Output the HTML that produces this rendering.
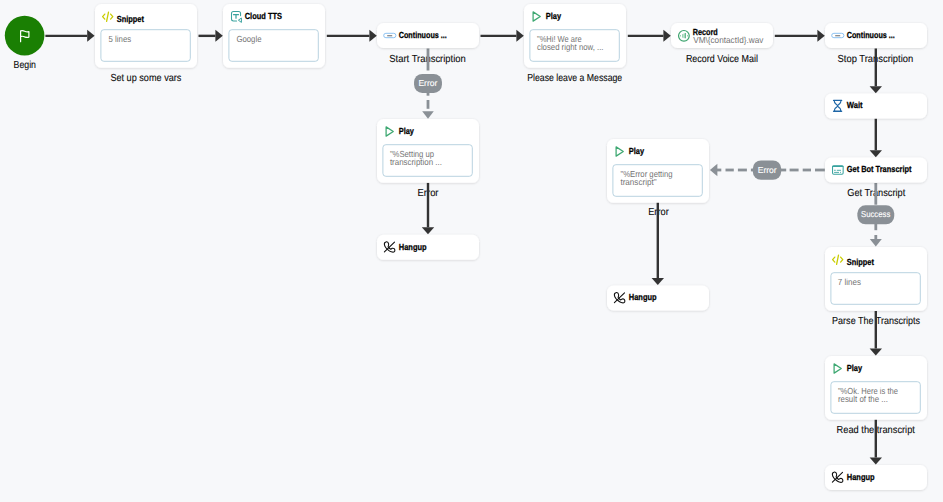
<!DOCTYPE html><html><head><meta charset="utf-8"><style>html,body{margin:0;padding:0;background:#f7f8fa;overflow:hidden}svg{display:block}text{font-family:"Liberation Sans",sans-serif;text-rendering:geometricPrecision}</style></head><body>
<svg width="943" height="502" viewBox="0 0 943 502">
<defs><filter id="sh" x="-10%" y="-20%" width="120%" height="140%"><feDropShadow dx="0" dy="0.6" stdDeviation="1.3" flood-color="#000" flood-opacity="0.15"/></filter></defs>
<rect width="943" height="502" fill="#f7f8fa"/>
<text x="13.6" y="68.1" font-size="10.2" fill="#0a0a0a" font-weight="normal" textLength="22.4" lengthAdjust="spacingAndGlyphs" stroke="#0a0a0a" stroke-width="0.1">Begin</text>
<text x="110.4" y="81" font-size="10.2" fill="#0a0a0a" font-weight="normal" textLength="71" lengthAdjust="spacingAndGlyphs" stroke="#0a0a0a" stroke-width="0.1">Set up some vars</text>
<text x="389.3" y="62" font-size="10.2" fill="#0a0a0a" font-weight="normal" textLength="76.5" lengthAdjust="spacingAndGlyphs" stroke="#0a0a0a" stroke-width="0.1">Start Transcription</text>
<text x="527.2" y="81" font-size="10.2" fill="#0a0a0a" font-weight="normal" textLength="95" lengthAdjust="spacingAndGlyphs" stroke="#0a0a0a" stroke-width="0.1">Please leave a Message</text>
<text x="685.9" y="62" font-size="10.2" fill="#0a0a0a" font-weight="normal" textLength="72" lengthAdjust="spacingAndGlyphs" stroke="#0a0a0a" stroke-width="0.1">Record Voice Mail</text>
<text x="837.6" y="62" font-size="10.2" fill="#0a0a0a" font-weight="normal" textLength="75.6" lengthAdjust="spacingAndGlyphs" stroke="#0a0a0a" stroke-width="0.1">Stop Transcription</text>
<text x="417.6" y="196" font-size="10.2" fill="#0a0a0a" font-weight="normal" textLength="20.9" lengthAdjust="spacingAndGlyphs" stroke="#0a0a0a" stroke-width="0.1">Error</text>
<text x="648.2" y="215" font-size="10.2" fill="#0a0a0a" font-weight="normal" textLength="20.6" lengthAdjust="spacingAndGlyphs" stroke="#0a0a0a" stroke-width="0.1">Error</text>
<text x="847.3" y="196" font-size="10.2" fill="#0a0a0a" font-weight="normal" textLength="57.9" lengthAdjust="spacingAndGlyphs" stroke="#0a0a0a" stroke-width="0.1">Get Transcript</text>
<text x="832.1" y="324" font-size="10.2" fill="#0a0a0a" font-weight="normal" textLength="88" lengthAdjust="spacingAndGlyphs" stroke="#0a0a0a" stroke-width="0.1">Parse The Transcripts</text>
<text x="836.6" y="433" font-size="10.2" fill="#0a0a0a" font-weight="normal" textLength="78.3" lengthAdjust="spacingAndGlyphs" stroke="#0a0a0a" stroke-width="0.1">Read the transcript</text>
<line x1="45.4" y1="35.85" x2="87.19999999999999" y2="35.85" stroke="#333333" stroke-width="2.4"/>
<path d="M87.19999999999999 29.85 L94.6 35.85 L87.19999999999999 41.85 Z" fill="#333333"/>
<line x1="198.5" y1="35.85" x2="215.4" y2="35.85" stroke="#333333" stroke-width="2.4"/>
<path d="M215.4 29.85 L222.8 35.85 L215.4 41.85 Z" fill="#333333"/>
<line x1="326.8" y1="35.85" x2="369.40000000000003" y2="35.85" stroke="#333333" stroke-width="2.4"/>
<path d="M369.40000000000003 29.85 L376.8 35.85 L369.40000000000003 41.85 Z" fill="#333333"/>
<line x1="480.5" y1="35.85" x2="516.4" y2="35.85" stroke="#333333" stroke-width="2.4"/>
<path d="M516.4 29.85 L523.8 35.85 L516.4 41.85 Z" fill="#333333"/>
<line x1="627.8" y1="35.85" x2="663.4" y2="35.85" stroke="#333333" stroke-width="2.4"/>
<path d="M663.4 29.85 L670.8 35.85 L663.4 41.85 Z" fill="#333333"/>
<line x1="774.8" y1="35.85" x2="817.4" y2="35.85" stroke="#333333" stroke-width="2.4"/>
<path d="M817.4 29.85 L824.8 35.85 L817.4 41.85 Z" fill="#333333"/>
<line x1="875.8" y1="48.5" x2="875.8" y2="86.3" stroke="#333333" stroke-width="2.4"/>
<path d="M869.5999999999999 86.3 L875.8 93.3 L882.0 86.3 Z" fill="#333333"/>
<line x1="875.8" y1="118.5" x2="875.8" y2="150.3" stroke="#333333" stroke-width="2.4"/>
<path d="M869.5999999999999 150.3 L875.8 157.3 L882.0 150.3 Z" fill="#333333"/>
<line x1="875.8" y1="311" x2="875.8" y2="348.5" stroke="#333333" stroke-width="2.4"/>
<path d="M869.5999999999999 348.5 L875.8 355.5 L882.0 348.5 Z" fill="#333333"/>
<line x1="875.8" y1="419" x2="875.8" y2="457.5" stroke="#333333" stroke-width="2.4"/>
<path d="M869.5999999999999 457.5 L875.8 464.5 L882.0 457.5 Z" fill="#333333"/>
<line x1="428" y1="182.7" x2="428" y2="227.3" stroke="#333333" stroke-width="2.4"/>
<path d="M421.8 227.3 L428 234.3 L434.2 227.3 Z" fill="#333333"/>
<line x1="657.8" y1="201.7" x2="657.8" y2="278" stroke="#333333" stroke-width="2.4"/>
<path d="M651.5999999999999 278 L657.8 285 L664.0 278 Z" fill="#333333"/>
<line x1="428" y1="48.5" x2="428" y2="70.5" stroke="#8a9096" stroke-width="2.8"/>
<line x1="428" y1="92" x2="428" y2="95.7" stroke="#8a9096" stroke-width="2.8"/>
<line x1="428" y1="100" x2="428" y2="108.8" stroke="#8a9096" stroke-width="2.8"/>
<path d="M422.2 111.2 L428 118.7 L433.8 111.2 Z" fill="#8a9096"/>
<rect x="414.05" y="73.9" width="27.9" height="19.0" rx="8.2" fill="#8a9096"/>
<text x="418.4" y="85.9" font-size="8.6" fill="#ffffff" font-weight="normal" textLength="19" lengthAdjust="spacingAndGlyphs" stroke="#ffffff" stroke-width="0.12">Error</text>
<line x1="875.8" y1="183" x2="875.8" y2="204.7" stroke="#8a9096" stroke-width="2.8"/>
<line x1="875.8" y1="223" x2="875.8" y2="230.2" stroke="#8a9096" stroke-width="2.8"/>
<line x1="875.8" y1="235" x2="875.8" y2="239.5" stroke="#8a9096" stroke-width="2.8"/>
<path d="M869.8 239 L875.8 246.4 L881.8 239 Z" fill="#8a9096"/>
<rect x="857.3499999999999" y="205.3" width="36.9" height="19.0" rx="8.2" fill="#8a9096"/>
<text x="861.0" y="216.9" font-size="8.6" fill="#ffffff" font-weight="normal" textLength="29.3" lengthAdjust="spacingAndGlyphs" stroke="#ffffff" stroke-width="0.12">Success</text>
<line x1="717" y1="170" x2="721.3" y2="170" stroke="#8a9096" stroke-width="2.8"/>
<line x1="725.5" y1="170" x2="733.8" y2="170" stroke="#8a9096" stroke-width="2.8"/>
<line x1="737.9" y1="170" x2="746.9" y2="170" stroke="#8a9096" stroke-width="2.8"/>
<line x1="750.9" y1="170" x2="755" y2="170" stroke="#8a9096" stroke-width="2.8"/>
<line x1="778" y1="170" x2="786.2" y2="170" stroke="#8a9096" stroke-width="2.8"/>
<line x1="789.6" y1="170" x2="798.6" y2="170" stroke="#8a9096" stroke-width="2.8"/>
<line x1="802.7" y1="170" x2="811" y2="170" stroke="#8a9096" stroke-width="2.8"/>
<line x1="815" y1="170" x2="824.8" y2="170" stroke="#8a9096" stroke-width="2.8"/>
<path d="M717.4 163.8 L709.9 170 L717.4 176.2 Z" fill="#8a9096"/>
<rect x="752.8" y="160.4" width="28.4" height="19.400000000000006" rx="8.2" fill="#8a9096"/>
<text x="757.7" y="173.0" font-size="8.6" fill="#ffffff" font-weight="normal" textLength="19" lengthAdjust="spacingAndGlyphs" stroke="#ffffff" stroke-width="0.12">Error</text>
<circle cx="24.6" cy="35.6" r="19.8" fill="#1a7f03"/>
<g fill="none" stroke="#fff" stroke-width="1.2" stroke-linejoin="round"><path d="M20.6 41.7 V30.9 Q22.6 30.1 24.7 31.2 Q26.8 32.3 28.9 31.6 V37.1 Q26.8 37.9 24.7 36.9 Q22.6 35.8 20.6 36.6" stroke-linecap="round"/></g>
<rect x="95" y="4" width="102" height="63.8" rx="6.5" fill="#fff" filter="url(#sh)"/>
<rect x="100.9" y="29.7" width="89.4" height="31.6" rx="3" fill="#fff" stroke="#b9d3e0" stroke-width="1"/>
<g fill="none" stroke="#c9cc00" stroke-width="1.3" stroke-linecap="round" stroke-linejoin="round"><path d="M104.8 14.1 L102.6 16.6 L104.8 19.1"/><path d="M110.6 14.1 L112.8 16.6 L110.6 19.1"/><path d="M108.5 12.1 L106.6 21.4"/></g>
<text x="116.75" y="22" font-size="8.8" fill="#000000" font-weight="bold" textLength="27.2" lengthAdjust="spacingAndGlyphs" stroke="#000000" stroke-width="0.25">Snippet</text>
<text x="108.6" y="42" font-size="8.8" fill="#747474" font-weight="normal" textLength="22.6" lengthAdjust="spacingAndGlyphs">5 lines</text>
<rect x="223" y="4" width="102" height="63.8" rx="6.5" fill="#fff" filter="url(#sh)"/>
<rect x="228.9" y="29.7" width="89.4" height="31.6" rx="3" fill="#fff" stroke="#b9d3e0" stroke-width="1"/>
<g fill="none" stroke="#3aa39f" stroke-width="1.05" stroke-linecap="round" stroke-linejoin="round"><path d="M240.56 15.6 V13.4 A2 2 0 0 0 238.56 11.4 H233.5 A2 2 0 0 0 231.5 13.4 V18.9 A2 2 0 0 0 233.5 20.9 H236.6"/><path d="M233.5 14.7 H238.5 M236 14.7 V18.2" stroke-width="1.25"/><path d="M241.4 18.4 V22.4 L238.7 20.4 Z" stroke-width="1"/></g>
<text x="244.75" y="19" font-size="8.8" fill="#000000" font-weight="bold" textLength="37.2" lengthAdjust="spacingAndGlyphs" stroke="#000000" stroke-width="0.25">Cloud TTS</text>
<text x="236.4" y="42" font-size="8.8" fill="#747474" font-weight="normal" textLength="25.1" lengthAdjust="spacingAndGlyphs">Google</text>
<rect x="524" y="4" width="102" height="63.8" rx="6.5" fill="#fff" filter="url(#sh)"/>
<rect x="529.9" y="29.7" width="89.4" height="31.6" rx="3" fill="#fff" stroke="#b9d3e0" stroke-width="1"/>
<path d="M533.1 11.9 L540.3 16.5 L533.1 21.1 Z" fill="none" stroke="#3ea872" stroke-width="1.25" stroke-linejoin="round"/>
<text x="545.75" y="19" font-size="8.8" fill="#000000" font-weight="bold" textLength="15.3" lengthAdjust="spacingAndGlyphs" stroke="#000000" stroke-width="0.25">Play</text>
<text x="537.0" y="42" font-size="8.8" fill="#747474" font-weight="normal" textLength="44.6" lengthAdjust="spacingAndGlyphs">"%Hi! We are</text>
<text x="537.0" y="50" font-size="8.8" fill="#747474" font-weight="normal" textLength="66.5" lengthAdjust="spacingAndGlyphs">closed right now, ...</text>
<rect x="377" y="119" width="102" height="63.8" rx="6.5" fill="#fff" filter="url(#sh)"/>
<rect x="382.9" y="144.7" width="89.4" height="31.6" rx="3" fill="#fff" stroke="#b9d3e0" stroke-width="1"/>
<path d="M386.1 126.9 L393.3 131.5 L386.1 136.1 Z" fill="none" stroke="#3ea872" stroke-width="1.25" stroke-linejoin="round"/>
<text x="398.75" y="134" font-size="8.8" fill="#000000" font-weight="bold" textLength="15.2" lengthAdjust="spacingAndGlyphs" stroke="#000000" stroke-width="0.25">Play</text>
<text x="389.9" y="157" font-size="8.8" fill="#747474" font-weight="normal" textLength="44.2" lengthAdjust="spacingAndGlyphs">"%Setting up</text>
<text x="389.9" y="165" font-size="8.8" fill="#747474" font-weight="normal" textLength="52" lengthAdjust="spacingAndGlyphs">transcription ...</text>
<rect x="607" y="139" width="102" height="63.8" rx="6.5" fill="#fff" filter="url(#sh)"/>
<rect x="612.9" y="164.7" width="89.4" height="31.6" rx="3" fill="#fff" stroke="#b9d3e0" stroke-width="1"/>
<path d="M616.1 146.9 L623.3 151.5 L616.1 156.1 Z" fill="none" stroke="#3ea872" stroke-width="1.25" stroke-linejoin="round"/>
<text x="628.75" y="154" font-size="8.8" fill="#000000" font-weight="bold" textLength="15.3" lengthAdjust="spacingAndGlyphs" stroke="#000000" stroke-width="0.25">Play</text>
<text x="620.4" y="177" font-size="8.8" fill="#747474" font-weight="normal" textLength="52.2" lengthAdjust="spacingAndGlyphs">"%Error getting</text>
<text x="620.4" y="185" font-size="8.8" fill="#747474" font-weight="normal" textLength="36.2" lengthAdjust="spacingAndGlyphs">transcript"</text>
<rect x="825" y="247" width="102" height="63.8" rx="6.5" fill="#fff" filter="url(#sh)"/>
<rect x="830.9" y="272.7" width="89.4" height="31.6" rx="3" fill="#fff" stroke="#b9d3e0" stroke-width="1"/>
<g fill="none" stroke="#c9cc00" stroke-width="1.3" stroke-linecap="round" stroke-linejoin="round"><path d="M834.8 257.1 L832.6 259.6 L834.8 262.1"/><path d="M840.6 257.1 L842.8 259.6 L840.6 262.1"/><path d="M838.5 255.1 L836.6 264.4"/></g>
<text x="846.75" y="265" font-size="8.8" fill="#000000" font-weight="bold" textLength="27.2" lengthAdjust="spacingAndGlyphs" stroke="#000000" stroke-width="0.25">Snippet</text>
<text x="837.8" y="285" font-size="8.8" fill="#747474" font-weight="normal" textLength="23.2" lengthAdjust="spacingAndGlyphs">7 lines</text>
<rect x="825" y="356" width="102" height="63.8" rx="6.5" fill="#fff" filter="url(#sh)"/>
<rect x="830.9" y="381.7" width="89.4" height="31.6" rx="3" fill="#fff" stroke="#b9d3e0" stroke-width="1"/>
<path d="M834.1 363.9 L841.3 368.5 L834.1 373.1 Z" fill="none" stroke="#3ea872" stroke-width="1.25" stroke-linejoin="round"/>
<text x="846.75" y="371" font-size="8.8" fill="#000000" font-weight="bold" textLength="15.3" lengthAdjust="spacingAndGlyphs" stroke="#000000" stroke-width="0.25">Play</text>
<text x="837.9" y="394" font-size="8.8" fill="#747474" font-weight="normal" textLength="60.1" lengthAdjust="spacingAndGlyphs">"%Ok. Here is the</text>
<text x="837.9" y="402" font-size="8.8" fill="#747474" font-weight="normal" textLength="50" lengthAdjust="spacingAndGlyphs">result of the ...</text>
<rect x="377" y="23" width="102" height="25" rx="6.5" fill="#fff" filter="url(#sh)"/>
<rect x="383.7" y="33.3" width="12.2" height="4.4" rx="2.2" fill="#fff" stroke="#8cc2f2" stroke-width="1"/>
<path d="M387.2 35.7 H392.2" stroke="#8a8a8a" stroke-width="1.3"/>
<text x="398.75" y="38.1" font-size="8.8" fill="#000000" font-weight="bold" textLength="48.1" lengthAdjust="spacingAndGlyphs" stroke="#000000" stroke-width="0.25">Continuous ...</text>
<rect x="671" y="23" width="102" height="25" rx="6.5" fill="#fff" filter="url(#sh)"/>
<circle cx="683.9" cy="35.85" r="5.35" fill="none" stroke="#3da46e" stroke-width="1.2"/>
<rect x="682.1" y="34.1" width="1.2" height="3.55" fill="#94d0b0"/>
<rect x="683.5" y="33.6" width="1.05" height="4.5" fill="#9ad3b4"/>
<rect x="684.7" y="33.0" width="1.2" height="5.3" fill="#5ab585"/>
<rect x="680.1" y="35.2" width="0.9" height="1.2" fill="#6cbf93"/>
<rect x="687.0" y="35.2" width="0.9" height="1.2" fill="#6cbf93"/>
<text x="692.75" y="35.0" font-size="8.8" fill="#000000" font-weight="bold" textLength="25" lengthAdjust="spacingAndGlyphs" stroke="#000000" stroke-width="0.25">Record</text>
<rect x="825" y="23" width="102" height="25" rx="6.5" fill="#fff" filter="url(#sh)"/>
<rect x="831.7" y="33.3" width="12.2" height="4.4" rx="2.2" fill="#fff" stroke="#8cc2f2" stroke-width="1"/>
<path d="M835.2 35.7 H840.2" stroke="#8a8a8a" stroke-width="1.3"/>
<text x="846.75" y="38.1" font-size="8.8" fill="#000000" font-weight="bold" textLength="48.1" lengthAdjust="spacingAndGlyphs" stroke="#000000" stroke-width="0.25">Continuous ...</text>
<rect x="825" y="93.5" width="102" height="25" rx="6.5" fill="#fff" filter="url(#sh)"/>
<g fill="none" stroke="#1f66a6" stroke-width="1.15" stroke-linecap="round" stroke-linejoin="round"><path d="M833.6 100.4 H841.6 M833.6 111.3 H841.6" stroke-width="1.4"/><path d="M834.2 100.5 L834.6 102.3 C835.2 104.1 837.6 104.9 837.6 105.9 C837.6 106.9 835 107.7 834.6 109.5 V111.3"/><path d="M841 100.5 L840.6 102.3 C840 104.1 837.6 104.9 837.6 105.9 C837.6 106.9 840.2 107.7 840.6 109.5 V111.3"/></g>
<text x="846.75" y="108.1" font-size="8.8" fill="#000000" font-weight="bold" textLength="15.8" lengthAdjust="spacingAndGlyphs" stroke="#000000" stroke-width="0.25">Wait</text>
<rect x="825" y="157.5" width="102" height="25" rx="6.5" fill="#fff" filter="url(#sh)"/>
<g fill="none" stroke="#3aa39f" stroke-linecap="round"><rect x="832.55" y="165.8" width="10.6" height="8.5" rx="1.2" stroke-width="1.05"/><path d="M832.8 166.4 H842.9" stroke-width="1.3"/><path d="M834.5 170.3 H835.3 M837.2 170.3 H840.6 M834.5 172.4 H838.6 M840.5 172.4 H840.6" stroke-width="0.9"/></g>
<text x="846.75" y="171.9" font-size="8.8" fill="#000000" font-weight="bold" textLength="64.75" lengthAdjust="spacingAndGlyphs" stroke="#000000" stroke-width="0.25">Get Bot Transcript</text>
<rect x="377" y="234.8" width="102" height="25" rx="6.5" fill="#fff" filter="url(#sh)"/>
<g fill="none" stroke="#111" stroke-width="1.1" stroke-linecap="round" stroke-linejoin="round"><path d="M384.4 251.9 L394.5 242.20000000000002"/><path d="M386.6 241.8 C385.3 242.0 384.2 243.0 384.4 244.4 C384.5 245.60000000000002 385.0 246.70000000000002 385.7 247.5 C386.4 248.5 387.2 249.3 388.0 249.8 C389.0 250.70000000000002 390.0 251.4 391.2 251.8 C392.3 252.20000000000002 393.6 252.4 394.4 251.70000000000002 C395.1 251.0 394.9 249.3 394.2 248.70000000000002 C393.6 248.20000000000002 392.8 248.10000000000002 392.2 248.3 L390.8 249.20000000000002 C390.1 248.8 389.4 248.4 389.0 247.9 L388.1 246.8 C388.5 245.8 388.8 244.8 388.6 244.0 C388.4 242.8 387.6 241.70000000000002 386.6 241.8 Z"/></g>
<text x="398.75" y="249.6" font-size="8.8" fill="#000000" font-weight="bold" textLength="27.9" lengthAdjust="spacingAndGlyphs" stroke="#000000" stroke-width="0.25">Hangup</text>
<rect x="607" y="285.5" width="102" height="25" rx="6.5" fill="#fff" filter="url(#sh)"/>
<g fill="none" stroke="#111" stroke-width="1.1" stroke-linecap="round" stroke-linejoin="round"><path d="M614.4 302.6 L624.5 292.9"/><path d="M616.6 292.5 C615.3 292.7 614.2 293.7 614.4 295.1 C614.5 296.3 615.0 297.4 615.7 298.2 C616.4 299.2 617.2 300.0 618.0 300.5 C619.0 301.4 620.0 302.1 621.2 302.5 C622.3 302.9 623.6 303.1 624.4 302.4 C625.1 301.7 624.9 300.0 624.2 299.4 C623.6 298.9 622.8 298.8 622.2 299.0 L620.8 299.9 C620.1 299.5 619.4 299.1 619.0 298.6 L618.1 297.5 C618.5 296.5 618.8 295.5 618.6 294.7 C618.4 293.5 617.6 292.4 616.6 292.5 Z"/></g>
<text x="628.75" y="300.3" font-size="8.8" fill="#000000" font-weight="bold" textLength="27.9" lengthAdjust="spacingAndGlyphs" stroke="#000000" stroke-width="0.25">Hangup</text>
<rect x="825" y="465" width="102" height="25" rx="6.5" fill="#fff" filter="url(#sh)"/>
<g fill="none" stroke="#111" stroke-width="1.1" stroke-linecap="round" stroke-linejoin="round"><path d="M832.4 482.1 L842.5 472.4"/><path d="M834.6 472.0 C833.3 472.2 832.2 473.2 832.4 474.6 C832.5 475.8 833.0 476.9 833.7 477.7 C834.4 478.7 835.2 479.5 836.0 480.0 C837.0 480.9 838.0 481.6 839.2 482.0 C840.3 482.4 841.6 482.6 842.4 481.9 C843.1 481.2 842.9 479.5 842.2 478.9 C841.6 478.4 840.8 478.3 840.2 478.5 L838.8 479.4 C838.1 479.0 837.4 478.6 837.0 478.1 L836.1 477.0 C836.5 476.0 836.8 475.0 836.6 474.2 C836.4 473.0 835.6 471.9 834.6 472.0 Z"/></g>
<text x="846.75" y="479.8" font-size="8.8" fill="#000000" font-weight="bold" textLength="27.9" lengthAdjust="spacingAndGlyphs" stroke="#000000" stroke-width="0.25">Hangup</text>
<text x="693.2" y="43" font-size="8.8" fill="#747474" font-weight="normal" textLength="70.2" lengthAdjust="spacingAndGlyphs">VM\{contactId}.wav</text>
</svg></body></html>
